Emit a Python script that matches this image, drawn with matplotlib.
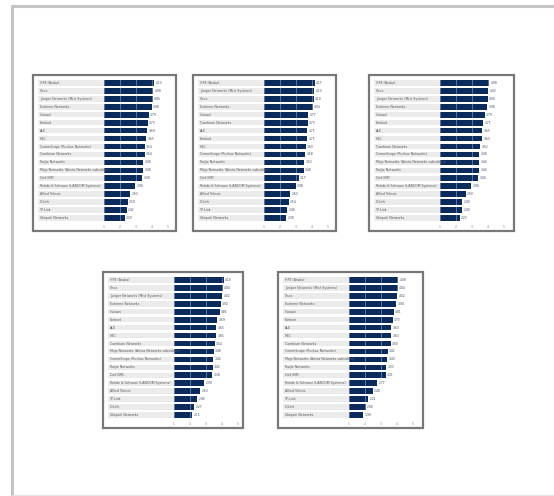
import numpy as np
import matplotlib.pyplot as plt
from matplotlib.patches import Rectangle
from matplotlib.lines import Line2D
from matplotlib.transforms import blended_transform_factory

# vendor names (short keys used in the orders below)
names = {
    'hpe': 'HPE (Aruba)',
    'cisco': 'Cisco',
    'juniper': 'Juniper Networks (Mist Systems)',
    'extreme': 'Extreme Networks',
    'huawei': 'Huawei',
    'fortinet': 'Fortinet',
    'ale': 'ALE',
    'h3c': 'H3C',
    'commscope': 'CommScope (Ruckus Networks)',
    'cambium': 'Cambium Networks',
    'ruijie': 'Ruijie Networks',
    'mojo': 'Mojo Networks (Arista Networks subsidiary)',
    'dell': 'Dell EMC',
    'rohde': 'Rohde & Schwarz (LANCOM Systems)',
    'allied': 'Allied Telesis',
    'dlink': 'D-Link',
    'tplink': 'TP-Link',
    'ubiquiti': 'Ubiquiti Networks',
}

order1 = ['hpe', 'cisco', 'juniper', 'extreme', 'huawei', 'fortinet', 'ale', 'h3c', 'commscope',
          'cambium', 'ruijie', 'mojo', 'dell', 'rohde', 'allied', 'dlink', 'tplink', 'ubiquiti']
values1 = [4.13, 4.08, 4.06, 3.98, 3.79, 3.73, 3.69, 3.65, 3.54,
           3.54, 3.46, 3.46, 3.38, 2.96, 2.63, 2.50, 2.42, 2.29]

order2 = ['hpe', 'juniper', 'cisco', 'extreme', 'huawei', 'cambium', 'ale', 'fortinet', 'h3c',
          'commscope', 'ruijie', 'mojo', 'dell', 'rohde', 'allied', 'dlink', 'tplink', 'ubiquiti']
values2 = [4.17, 4.13, 4.10, 4.04, 3.77, 3.73, 3.71, 3.71, 3.60,
           3.58, 3.52, 3.48, 3.17, 2.98, 2.63, 2.54, 2.46, 2.38]

order3 = ['hpe', 'cisco', 'juniper', 'extreme', 'huawei', 'fortinet', 'ale', 'h3c', 'cambium',
          'commscope', 'mojo', 'ruijie', 'dell', 'rohde', 'allied', 'dlink', 'tplink', 'ubiquiti']
values3 = [4.08, 4.02, 4.00, 3.96, 3.79, 3.71, 3.65, 3.63, 3.52,
           3.46, 3.44, 3.44, 3.40, 2.96, 2.60, 2.40, 2.40, 2.23]

order4 = ['hpe', 'cisco', 'juniper', 'extreme', 'huawei', 'fortinet', 'ale', 'h3c', 'cambium',
          'mojo', 'commscope', 'ruijie', 'dell', 'rohde', 'allied', 'tplink', 'dlink', 'ubiquiti']
values4 = [4.10, 4.04, 4.02, 3.92, 3.85, 3.69, 3.65, 3.65, 3.54,
           3.48, 3.44, 3.42, 3.38, 2.90, 2.63, 2.46, 2.27, 2.15]

order5 = ['hpe', 'juniper', 'cisco', 'extreme', 'huawei', 'fortinet', 'ale', 'h3c', 'cambium',
          'commscope', 'mojo', 'ruijie', 'dell', 'rohde', 'allied', 'tplink', 'dlink', 'ubiquiti']
values5 = [4.08, 4.04, 4.02, 3.94, 3.81, 3.73, 3.63, 3.63, 3.60,
           3.42, 3.40, 3.33, 3.31, 2.77, 2.48, 2.21, 2.06, 1.90]

ticks = [1, 2, 3, 4, 5]

panels = [(order1, values1), (order2, values2), (order3, values3), (order4, values4), (order5, values5)]
# panel boxes in pixels: left, top, right, bottom
boxes = [(33, 75, 176, 231), (193, 75, 336, 231), (369, 75, 514, 231),
         (103, 272, 243, 428), (278, 272, 423, 428)]

W, H = 554, 496
navy = '#0b2b5c'

fig = plt.figure(figsize=(W / 100, H / 100), dpi=100)

def fx(x):
    return x / W

def fy(y):
    return 1 - y / H

# page frame
fig.add_artist(Line2D([fx(12), 1], [fy(6), fy(6)], color='#c4c4c4', lw=2.2))
fig.add_artist(Line2D([fx(12), fx(12)], [fy(6), 0], color='#c4c4c4', lw=2.2))
fig.add_artist(Line2D([fx(12), 1], [fy(495), fy(495)], color='#e4e4e4', lw=0.8))

for (order, vals), (x0, y0, x1, y1) in zip(panels, boxes):
    fig.add_artist(Rectangle((fx(x0), fy(y1)), fx(x1 - x0), (y1 - y0) / H,
                             fill=False, edgecolor='#787878', lw=1.6))
    bl = x0 + 71
    br = x1 - 3
    at = y0 + 4
    ab = y0 + 147
    ax = fig.add_axes([fx(bl), fy(ab), fx(br - bl), (ab - at) / H])
    y = np.arange(len(order))
    ax.barh(y, vals, height=0.72, color=navy, zorder=2)
    ax.set_xlim(1, 1 + (br - bl) / 16)
    ax.set_ylim(len(order) - 0.5, -0.5)
    ax.set_xticks(ticks)
    ax.set_xticklabels([str(t) for t in ticks], fontsize=2.2, color='#777777')
    ax.tick_params(length=0, pad=2.5)
    ax.set_yticks([])
    for s in ax.spines.values():
        s.set_visible(False)
    ax.grid(axis='x', color='white', lw=0.4, alpha=0.6)
    ax.set_axisbelow(False)
    tr = blended_transform_factory(fig.transFigure, ax.transData)
    for i, (k, v) in enumerate(zip(order, vals)):
        ax.add_patch(Rectangle((fx(x0 + 5), i - 0.34), fx(bl - x0 - 5), 0.68, transform=tr,
                               facecolor='#ebebeb', edgecolor='none', clip_on=False, zorder=1))
        ax.text(fx(x0 + 7), i, names[k], transform=tr, fontsize=2.3, color='#5a5a5a',
                va='center', ha='left', clip_on=False)
        ax.text(v + 0.08, i, f'{v:.2f}', fontsize=2.2, color='#3a4a66', va='center', ha='left')

plt.savefig('out.png', dpi=100)
